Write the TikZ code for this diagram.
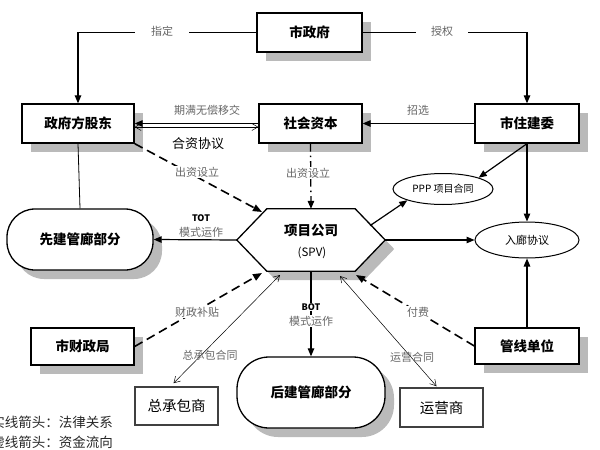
\documentclass[tikz,border=0pt]{standalone}
\usepackage{fontspec}
\setmainfont{Noto Sans CJK SC}
\usetikzlibrary{arrows.meta,shadows,shapes.geometric}
\begin{document}
\begin{tikzpicture}[x=1pt,y=-1pt,
  sh/.style={drop shadow={shadow xshift=9pt,shadow yshift=-9pt,fill=black!27,draw=none,opacity=1}},
  bx/.style={draw=black,line width=1.3pt,fill=white,sh,font=\bfseries\fontsize{13.5}{16}\selectfont,inner sep=0pt},
  pbox/.style={draw=black!75,line width=1.5pt,fill=white,font=\fontsize{14.5}{17}\selectfont,inner sep=0pt},
  ell/.style={draw=black,ellipse,line width=1pt,fill=white,inner sep=0pt},
  lab/.style={text=black!60,font=\fontsize{11}{13}\selectfont,inner sep=1pt},
  lf/.style={lab,fill=white},
  arr/.style={line width=1.2pt,-{Triangle[length=8pt,width=6.5pt]}},
  darr/.style={line width=1.6pt,dash pattern=on 9pt off 5pt,-{Triangle[length=9pt,width=7pt]}},
  thinarr/.style={line width=0.5pt,{Straight Barb[length=6pt,width=7pt]}-{Straight Barb[length=6pt,width=7pt]}}]
\useasboundingbox (0,0) rectangle (600,450);

% boxes
\node[bx,minimum width=105pt,minimum height=39pt] (gov) at (309.5,32.5) {市政府};
\node[bx,minimum width=112pt,minimum height=39pt] (gs) at (78,123.5) {政府方股东};
\node[bx,minimum width=103pt,minimum height=39pt] (sc) at (310.5,123.5) {社会资本};
\node[bx,minimum width=104pt,minimum height=39pt] (zj) at (527,123.5) {市住建委};
\node[bx,rounded corners=28pt,minimum width=146pt,minimum height=61pt] (xj) at (80,239.5) {先建管廊部分};
\node[bx,minimum width=104pt,minimum height=36pt] (gx) at (527,346) {管线单位};
\node[bx,minimum width=103pt,minimum height=37pt] (cz) at (82.5,346.5) {市财政局};
\node[bx,rounded corners=32pt,minimum width=148pt,minimum height=71pt] (hj) at (311,392.5) {后建管廊部分};
\node[pbox,minimum width=83pt,minimum height=38pt] (zcb) at (176.5,406) {总承包商};
\node[pbox,minimum width=83pt,minimum height=39pt] (yys) at (441.5,407.5) {运营商};
\node[ell,minimum width=100pt,minimum height=31pt,font=\fontsize{10}{12}\selectfont] (ppp) at (443,189) {PPP 项目合同};
\node[ell,minimum width=104pt,minimum height=36pt,font=\fontsize{11}{13}\selectfont] (rl) at (527,240) {入廊协议};

% hexagon (SPV)
\node[minimum width=148pt,minimum height=62pt,inner sep=0pt] (spv) at (311,240) {};
\draw[line width=1.3pt,fill=white,sh] (spv.west) -- ([xshift=30pt]spv.north west) -- ([xshift=-30pt]spv.north east) -- (spv.east) -- ([xshift=-30pt]spv.south east) -- ([xshift=30pt]spv.south west) -- cycle;
\node[font=\bfseries\fontsize{13.5}{16}\selectfont] (spvt1) at (311,230) {项目公司};
\node[font=\fontsize{11.5}{14}\selectfont] (spvt2) at (312,253) {(SPV)};
\coordinate (spvA) at (262,212);
\coordinate (spvB) at (371,225);
\coordinate (spvC) at (356,275);
\coordinate (spvD) at (262,273);
\coordinate (spvE) at (280,275);
\coordinate (spvF) at (340,276);

% connectors
\draw[arr] (gov.west) -| (gs.north);
\node[lf,minimum width=54pt] (l1) at (162,31) {指定};
\draw[arr] (gov.east) -| (zj.north);
\node[lf,minimum width=52pt] (l2) at (442,31) {授权};

\draw[arr] (sc.west) -- (gs.east);
\draw[thinarr] ([yshift=-3.5pt]gs.east) -- ([yshift=-3.5pt]sc.west);
\node[lab] (l3) at (207,110) {期满无偿移交};
\node[font=\fontsize{13}{15}\selectfont] (l4) at (198,144) {合资协议};

\draw[arr] (zj.west) -- (sc.east);
\node[lab] (l5) at (418,110) {招选};

\draw[line width=1.3pt,dash pattern=on 8pt off 4pt on 1.5pt off 4pt,-{Triangle[length=8pt,width=6.5pt]}] (sc.south) -- (spv.north);
\node[lf] (l6) at (308,173) {出资设立};

\draw[darr] (gs.south east) -- (spvA);
\node[lf] (l7) at (197,172) {出资设立};

\draw[line width=0.8pt] (gs.south) -- (xj.north);

\draw[arr] (spv.west) -- (xj.east);
\node[font=\bfseries\fontsize{9}{10}\selectfont,inner sep=1pt] (l8a) at (201,218) {TOT};
\node[lab] (l8b) at (201,232) {模式运作};

\fill (spvB) circle (1.5pt);
\draw[arr] (spvB) -- (ppp.south west);
\draw[arr] (zj.south) -- (ppp.north east);
\draw[arr] (zj.south) -- (rl.north);
\draw[arr] (spv.east) -- (rl.west);
\draw[arr] (gx.north) -- (rl.south);

\draw[darr] (gx.west) -- (spvC);
\node[lf] (l9) at (418,312) {付费};
\draw[darr] (cz.east) -- (spvD);
\node[lf] (l10) at (197,312) {财政补贴};

\draw[arr] (spv.south) -- (hj.north);
\node[fill=white,font=\bfseries\fontsize{9}{10}\selectfont,inner sep=1pt] (l11a) at (311,307) {BOT};
\node[lf] (l11b) at (311,321) {模式运作};

\draw[thinarr] ([shift={(-3pt,3pt)}]zcb.north) -- (spvE);
\node[lab] (l12) at (210,355) {总承包合同};
\draw[thinarr] (spvF) -- ([shift={(-5pt,1pt)}]yys.north);
\node[lab] (l13) at (412,357) {运营合同};

% legend
\node[anchor=east,font=\fontsize{13.5}{15}\selectfont,text=black!85,inner sep=0pt] (lg1) at (113,422) {实线箭头：法律关系};
\node[anchor=east,font=\fontsize{13.5}{15}\selectfont,text=black!85,inner sep=0pt] (lg2) at (113,442) {虚线箭头：资金流向};
\end{tikzpicture}
\end{document}
